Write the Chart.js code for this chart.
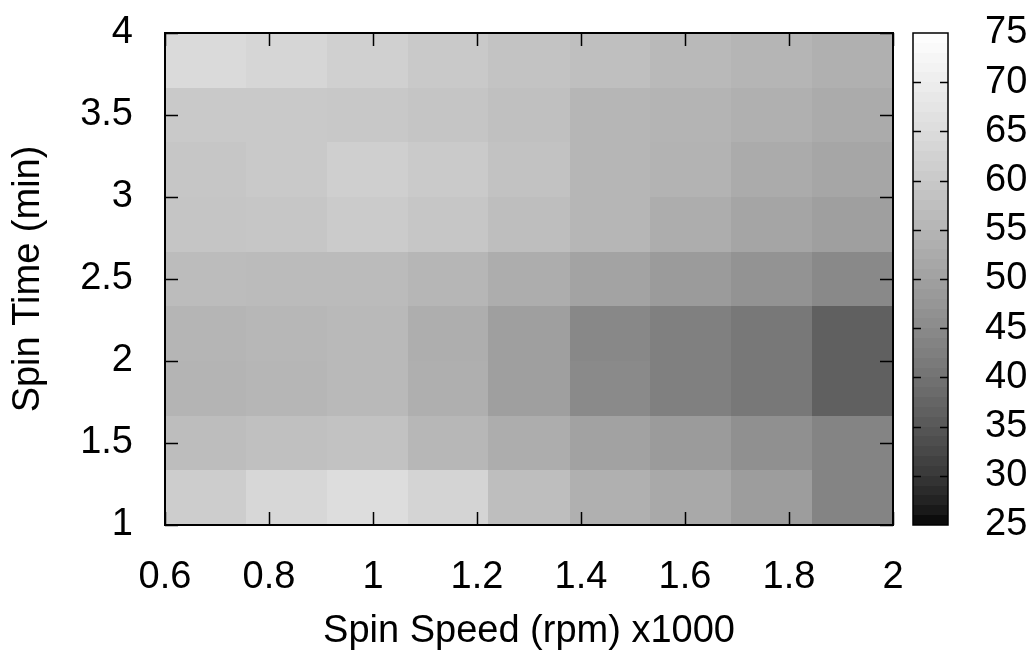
<!DOCTYPE html>
<html>
<head>
<meta charset="utf-8">
<script src="https://cdn.jsdelivr.net/npm/chart.js@4"></script>
<style>
  html, body { margin: 0; padding: 0; background: #fff; }
</style>
</head>
<body>
<canvas id="heatChart" width="1030" height="655"></canvas>
<script>
// cell edges: spin speed (x1000 rpm) and spin time (min)
const speedEdges = [0.6, 0.756, 0.911, 1.067, 1.222, 1.378, 1.533, 1.689, 1.844, 2.0];
const timeEdges = [1, 1.333, 1.667, 2, 2.333, 2.667, 3, 3.333, 3.667, 4];

// one row per spin time band, bottom (1 min) first
const cellValues = [
  [61.0, 63.7, 65.3, 62.9, 57.2, 53.7, 52.0, 49.2, 43.6],
  [56.9, 57.7, 58.2, 55.4, 52.9, 50.3, 48.7, 46.2, 43.6],
  [54.7, 55.1, 55.9, 53.4, 49.6, 44.9, 42.8, 41.1, 36.6],
  [54.9, 55.4, 55.9, 53.2, 49.6, 44.5, 42.8, 41.1, 36.6],
  [56.6, 56.4, 56.4, 55.1, 52.9, 50.6, 48.7, 46.9, 44.7],
  [58.9, 59.2, 60.5, 59.2, 57.2, 55.1, 52.9, 51.0, 49.6],
  [59.2, 60.0, 61.6, 60.3, 58.2, 55.1, 54.4, 52.5, 51.3],
  [60.0, 60.0, 59.7, 58.9, 57.7, 55.1, 54.7, 53.7, 52.5],
  [64.5, 63.4, 61.8, 60.0, 58.4, 57.4, 55.9, 54.9, 53.7]
];

const xTicks = [0.6, 0.8, 1, 1.2, 1.4, 1.6, 1.8, 2];
const yTicks = [1, 1.5, 2, 2.5, 3, 3.5, 4];
const cbTicks = [25, 30, 35, 40, 45, 50, 55, 60, 65, 70, 75];
const cbMin = 25, cbMax = 75, cbSteps = 50;

// gnuplot style gray palette (gamma 1.5)
function grayFor(v) {
  const t = Math.min(1, Math.max(0, (v - cbMin) / (cbMax - cbMin)));
  const g = Math.round(255 * Math.pow(t, 1 / 1.5));
  return 'rgb(' + g + ',' + g + ',' + g + ')';
}

const fmt = v => String(+v.toFixed(2));

const heatmap = {
  id: 'heatmap',
  beforeDatasetsDraw(chart) {
    const { ctx, scales: { x, y, cb } } = chart;
    ctx.save();
    cellValues.forEach((row, j) => {
      row.forEach((v, i) => {
        const x0 = Math.round(x.getPixelForValue(speedEdges[i]));
        const x1 = Math.round(x.getPixelForValue(speedEdges[i + 1]));
        const y0 = Math.round(y.getPixelForValue(timeEdges[j + 1]));
        const y1 = Math.round(y.getPixelForValue(timeEdges[j]));
        ctx.fillStyle = grayFor(v);
        ctx.fillRect(x0, y0, x1 - x0, y1 - y0);
      });
    });

    // colour box
    const bl = cb.left + 20, br = cb.left + 55;
    const step = (cbMax - cbMin) / cbSteps;
    for (let k = 0; k < cbSteps; k++) {
      const v0 = cbMin + k * step;
      const p0 = Math.round(cb.getPixelForValue(v0));
      const p1 = Math.round(cb.getPixelForValue(v0 + step));
      ctx.fillStyle = grayFor(v0 + step / 2);
      ctx.fillRect(bl, p1, br - bl, p0 - p1);
    }
    ctx.strokeStyle = '#000';
    ctx.lineWidth = 1.5;
    ctx.strokeRect(bl, cb.top, br - bl, cb.bottom - cb.top);
    ctx.beginPath();
    cbTicks.slice(1, -1).forEach(v => {
      const p = Math.round(cb.getPixelForValue(v)) + 0.5;
      ctx.moveTo(bl, p); ctx.lineTo(bl + 8, p);
      ctx.moveTo(br, p); ctx.lineTo(br - 8, p);
    });
    ctx.stroke();
    ctx.restore();
  },
  afterDatasetsDraw(chart) {
    const { ctx, chartArea: a, scales: { x, y } } = chart;
    ctx.save();
    ctx.strokeStyle = '#000';
    ctx.lineWidth = 1.5;
    ctx.beginPath();
    xTicks.forEach(v => {
      const p = Math.round(x.getPixelForValue(v)) + 0.5;
      ctx.moveTo(p, a.bottom); ctx.lineTo(p, a.bottom - 13);
      ctx.moveTo(p, a.top); ctx.lineTo(p, a.top + 13);
    });
    yTicks.forEach(v => {
      const p = Math.round(y.getPixelForValue(v)) + 0.5;
      ctx.moveTo(a.left, p); ctx.lineTo(a.left + 13, p);
      ctx.moveTo(a.right, p); ctx.lineTo(a.right - 13, p);
    });
    ctx.stroke();
    ctx.lineWidth = 2;
    ctx.strokeRect(a.left, a.top, a.right - a.left, a.bottom - a.top);
    ctx.restore();
  }
};

Chart.defaults.font.family = "'Liberation Sans', Arial, sans-serif";
Chart.defaults.font.size = 38;
Chart.defaults.color = '#000';

const cellCenters = [];
cellValues.forEach((row, j) => row.forEach((v, i) => {
  cellCenters.push({ x: (speedEdges[i] + speedEdges[i + 1]) / 2, y: (timeEdges[j] + timeEdges[j + 1]) / 2, v: v });
}));

new Chart(document.getElementById('heatChart'), {
  type: 'scatter',
  data: {
    datasets: [{ data: cellCenters, pointRadius: 0, pointHoverRadius: 0 }]
  },
  options: {
    responsive: false,
    animation: false,
    devicePixelRatio: 1,
    layout: { padding: { top: 33, left: 0, right: 0, bottom: 0 } },
    plugins: { legend: { display: false }, tooltip: { enabled: false } },
    scales: {
      x: {
        type: 'linear', position: 'bottom', min: 0.6, max: 2,
        afterBuildTicks: s => { s.ticks = xTicks.map(v => ({ value: v })); },
        afterFit: s => { s.height = 130; },
        // tickLength only offsets the labels, the grid itself is hidden
        grid: { display: false, drawTicks: true, tickLength: 30 },
        border: { display: false },
        ticks: { padding: 0, maxRotation: 0, autoSkip: false, callback: fmt },
        title: { display: true, text: 'Spin Speed (rpm) x1000', padding: { top: 0, bottom: 1 } }
      },
      y: {
        type: 'linear', position: 'left', min: 1, max: 4,
        afterBuildTicks: s => { s.ticks = yTicks.map(v => ({ value: v })); },
        afterFit: s => { s.width = 165; },
        grid: { display: false, drawTicks: true, tickLength: 32 },
        border: { display: false },
        ticks: { padding: 0, autoSkip: false, callback: fmt },
        title: { display: true, text: 'Spin Time (min)', padding: { top: 6, bottom: 0 } }
      },
      cb: {
        type: 'linear', position: 'right', min: cbMin, max: cbMax,
        afterBuildTicks: s => { s.ticks = cbTicks.map(v => ({ value: v })); },
        afterFit: s => { s.width = 137; },
        grid: { display: false, drawTicks: true, tickLength: 92 },
        border: { display: false },
        ticks: { padding: 0, autoSkip: false, callback: fmt }
      }
    }
  },
  plugins: [heatmap]
});
</script>
</body>
</html>
